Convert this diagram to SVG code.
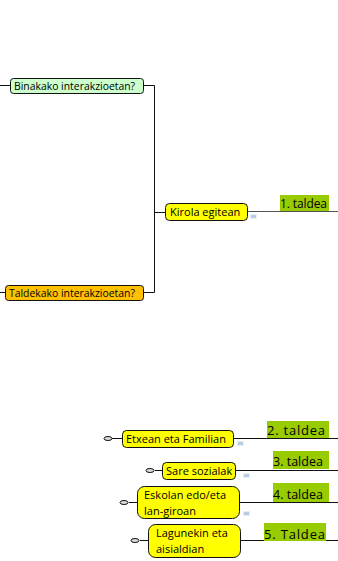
<svg xmlns="http://www.w3.org/2000/svg" width="338" height="561" viewBox="0 0 338 561">
<style>
text{font-family:"Open Sans","Noto Sans",sans-serif;font-size:11px;fill:#000}
.s{font-size:10.4px}
.t{font-size:13px}
.n{stroke:#111;stroke-width:1}
.y{fill:#ffff00}
.g{fill:#99cc00}
.c{fill:none;stroke:#111;stroke-width:1}
.c2{fill:none;stroke:#555;stroke-width:1}
.m{fill:#b8cce4;stroke:#e8eef6;stroke-width:1}
.o{fill:#ddd;stroke:#111;stroke-width:1}
</style>
<g id="connectors">
<path class="c" d="M0 85.500H10M144 85.500H154.500V292.500H144M0 292.500H5M154.500 212.500H165"/>
<path class="c2" d="M248 211.500H338"/>
<path class="c" d="M112 438.500H122M234 438.500H338M155 470.500H162M236 470.500H338M129 502.500H137M240 502.500H338M140 540.500H148M241 540.500H338"/>
</g>
<g id="n1"><rect class="n" x="10.500" y="78.500" width="133" height="15" rx="3" fill="#ccffcc"/><text class="s" x="14" y="89.500">Binakako interakzioetan?</text></g>
<g id="n2"><rect class="n" x="5.500" y="285.500" width="138" height="15" rx="3" fill="#ffc000"/><text class="s" x="9" y="296.500">Taldekako interakzioetan?</text></g>
<g id="n3"><rect class="n y" x="165.500" y="203.500" width="82" height="17" rx="4"/><text x="170" y="216">Kirola egitean</text><rect class="m" x="250.500" y="214.500" width="6" height="4"/></g>
<g id="t1"><rect class="g" x="280" y="195" width="49" height="16"/><text x="280" y="208" textLength="47" style="font-size:12px">1. taldea</text></g>
<g id="n4"><ellipse class="o" cx="108" cy="438.500" rx="4" ry="2"/><rect class="n y" x="122.500" y="430.500" width="111" height="17" rx="4"/><text x="126" y="443">Etxean eta Familian</text><rect class="m" x="237.500" y="441.500" width="6" height="4"/></g>
<g id="t2"><rect class="g" x="267" y="421" width="62" height="17"/><text class="t" x="267" y="435" textLength="58">2. taldea</text></g>
<g id="n5"><ellipse class="o" cx="150" cy="470.500" rx="4" ry="2"/><rect class="n y" x="162.500" y="462.500" width="73" height="17" rx="4"/><text x="166" y="475">Sare sozialak</text><rect class="m" x="243.500" y="473.500" width="6" height="4"/></g>
<g id="t3"><rect class="g" x="273" y="451" width="56" height="18"/><text x="273" y="465.500" style="font-size:12.500px">3. taldea</text></g>
<g id="n6"><ellipse class="o" cx="124" cy="502.500" rx="4" ry="2"/><rect class="n y" x="137.500" y="486.500" width="102" height="32" rx="7"/><text x="144" y="499">Eskolan edo/eta</text><text x="144" y="515">lan-giroan</text><rect class="m" x="243.500" y="511.500" width="6" height="4"/></g>
<g id="t4"><rect class="g" x="273" y="483" width="56" height="19"/><text x="273" y="499" style="font-size:12.500px">4. taldea</text></g>
<g id="n7"><ellipse class="o" cx="135" cy="540.500" rx="4" ry="2"/><rect class="n y" x="148.500" y="524.500" width="92" height="33" rx="7"/><text x="156" y="537">Lagunekin eta</text><text x="156" y="553">aisialdian</text></g>
<g id="t5"><rect class="g" x="264" y="523" width="62" height="18"/><text class="t" x="264" y="538.500" textLength="61">5. Taldea</text></g>
</svg>
